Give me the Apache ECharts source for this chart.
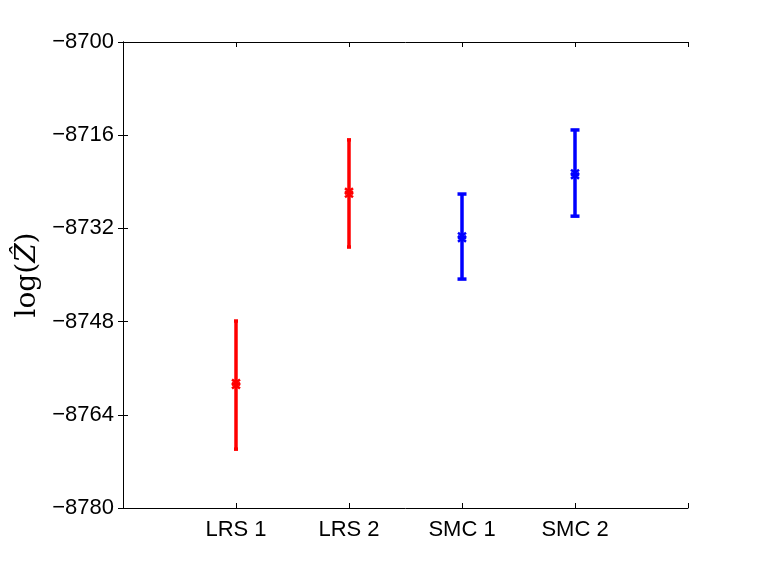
<!DOCTYPE html>
<html>
<head>
<meta charset="utf-8">
<script src="https://cdn.jsdelivr.net/npm/echarts@6/dist/echarts.min.js"></script>
<style>
html, body { margin: 0; padding: 0; background: #fff; }
#chart { width: 761px; height: 573px; }
</style>
</head>
<body>
<div id="chart"></div>
<script>
// estimates per method
var categories = ['LRS 1', 'LRS 2', 'SMC 1', 'SMC 2'];
var centers = [-8758.7, -8725.9, -8733.5, -8722.7];
var lowers = [-8769.9, -8735.2, -8740.7, -8729.9];
var uppers = [-8747.9, -8716.8, -8726.1, -8715.1];
var colors = ['#ff0000', '#ff0000', '#0000ff', '#0000ff'];
var capWidths = [4, 4, 9, 9];

var data = [];
for (var i = 0; i < categories.length; i++) {
	data.push([i + 1, lowers[i], uppers[i], centers[i]]);
}

var fmtNum = function(v) {
	return String(v).replace('-', '\u2212');
};

var renderBar = function(params, api) {
	var idx = params.dataIndex;
	var x = api.value(0);
	var lo = api.coord([x, api.value(1)]);
	var hi = api.coord([x, api.value(2)]);
	var mid = api.coord([x, api.value(3)]);
	var col = colors[idx];
	var hw = capWidths[idx] / 2;
	var st = { stroke: col, lineWidth: 3.5 };
	var kids = [
		{ type: 'line', shape: { x1: lo[0], y1: lo[1], x2: hi[0], y2: hi[1] }, style: st },
		{ type: 'line', shape: { x1: lo[0] - hw, y1: lo[1], x2: lo[0] + hw, y2: lo[1] }, style: st },
		{ type: 'line', shape: { x1: hi[0] - hw, y1: hi[1], x2: hi[0] + hw, y2: hi[1] }, style: st }
	];
	// double x marker at the estimate
	[-1.5, 1.5].forEach(function(d) {
		var cy = mid[1] + d;
		kids.push({ type: 'line', shape: { x1: mid[0] - 4, y1: cy - 3, x2: mid[0] + 4, y2: cy + 3 }, style: { stroke: col, lineWidth: 2.5 } });
		kids.push({ type: 'line', shape: { x1: mid[0] - 4, y1: cy + 3, x2: mid[0] + 4, y2: cy - 3 }, style: { stroke: col, lineWidth: 2.5 } });
	});
	return { type: 'group', children: kids };
};

var myChart = echarts.init(document.getElementById('chart'));
var axisLine = { show: true, lineStyle: { color: '#000', width: 1 } };
var option = {
	backgroundColor: '#fff',
	animation: false,
	grid: { left: 123, right: 73, top: 42, bottom: 65 },
	xAxis: [
		{
			type: 'value', min: 0, max: 5, interval: 1, position: 'bottom',
			axisLine: axisLine,
			axisTick: { show: true, inside: true, length: 5, lineStyle: { color: '#000' } },
			splitLine: { show: false },
			axisLabel: {
				color: '#000', fontSize: 22, fontFamily: 'Liberation Sans, Arial, sans-serif', margin: 11,
				formatter: function(v) { return categories[v - 1] || ''; }
			}
		},
		{
			type: 'value', min: 0, max: 5, interval: 1, position: 'top',
			axisLine: axisLine,
			axisTick: { show: true, inside: true, length: 5, lineStyle: { color: '#000' } },
			splitLine: { show: false },
			axisLabel: { show: false }
		}
	],
	yAxis: [
		{
			type: 'value', min: -8780, max: -8700, interval: 16, position: 'left',
			axisLine: axisLine,
			axisTick: { show: true, inside: true, length: 5, lineStyle: { color: '#000' } },
			splitLine: { show: false },
			axisLabel: { color: '#000', fontSize: 22, fontFamily: 'Liberation Sans, Arial, sans-serif', margin: 9, formatter: fmtNum },
			name: '{a|log(}{b|\u1E90}{a|)}',
			nameLocation: 'middle',
			nameGap: 79,
			nameRotate: 90,
			nameTextStyle: {
				rich: {
					a: { fontFamily: 'DejaVu Serif, Liberation Serif, serif', fontSize: 28, color: '#000' },
					b: { fontFamily: 'DejaVu Serif, Liberation Serif, serif', fontStyle: 'italic', fontSize: 28, color: '#000' }
				}
			}
		},
		{
			type: 'value', min: -8780, max: -8700, interval: 16, position: 'right',
			axisLine: axisLine,
			axisTick: { show: true, inside: true, length: 5, lineStyle: { color: '#000' } },
			splitLine: { show: false },
			axisLabel: { show: false }
		}
	],
	series: [
		{
			type: 'custom',
			renderItem: renderBar,
			encode: { x: 0, y: [1, 2, 3] },
			data: data,
			clip: false
		}
	]
};
myChart.setOption(option);
</script>
</body>
</html>
